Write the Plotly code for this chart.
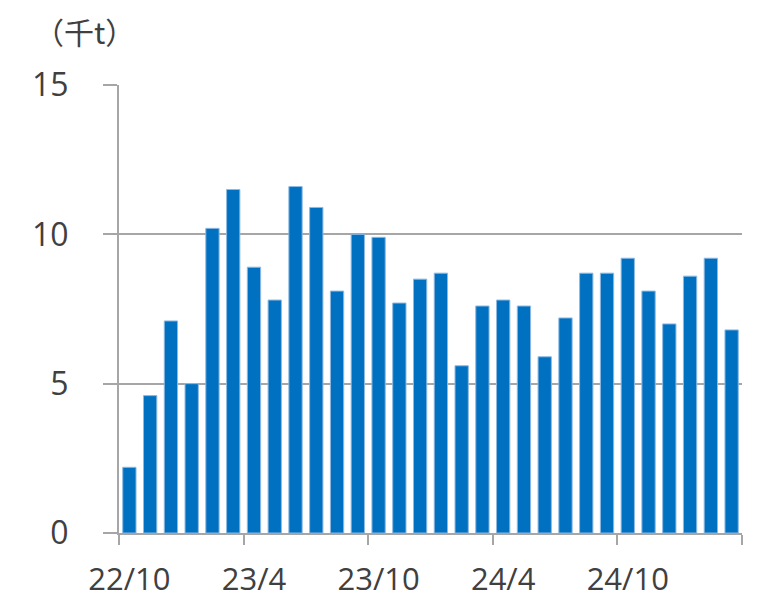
import plotly.graph_objects as go

months = ["22/10", "22/11", "22/12", "23/1", "23/2", "23/3", "23/4", "23/5", "23/6", "23/7",
          "23/8", "23/9", "23/10", "23/11", "23/12", "24/1", "24/2", "24/3", "24/4", "24/5",
          "24/6", "24/7", "24/8", "24/9", "24/10", "24/11", "24/12", "25/1", "25/2", "25/3"]
values = [2.2, 4.6, 7.1, 5.0, 10.2, 11.5, 8.9, 7.8, 11.6, 10.9,
          8.1, 10.0, 9.9, 7.7, 8.5, 8.7, 5.6, 7.6, 7.8, 7.6,
          5.9, 7.2, 8.7, 8.7, 9.2, 8.1, 7.0, 8.6, 9.2, 6.8]
tick_labels = ["22/10", "23/4", "23/10", "24/4", "24/10"]
y_ticks = [0, 5, 10, 15]
unit_label = "（千t）"

idx = list(range(len(months)))
label_pos = [months.index(t) for t in tick_labels]
boundaries = [p - 0.5 for p in label_pos] + [len(months) - 0.5]

FONT = "Open Sans, Noto Sans CJK JP, sans-serif"
TXT = "#404040"
GRID = "#A6A6A6"

L, T, PW, PH = 111, 77, 623, 448
W, H = 757, 599

fig = go.Figure()
fig.add_trace(go.Bar(x=idx, y=values,
                     marker=dict(color="#0070C0", line=dict(width=1, color="#8DB9E2")),
                     showlegend=False, hoverinfo="skip"))
# invisible trace to activate xaxis2
fig.add_trace(go.Scatter(x=[0], y=[0], xaxis="x2", mode="markers",
                         marker=dict(opacity=0), showlegend=False, hoverinfo="skip"))

rng = [-0.5, len(months) - 0.5]
fig.update_layout(
    width=W, height=H,
    margin=dict(l=L, r=W - L - PW, t=T, b=H - T - PH, autoexpand=False),
    paper_bgcolor="white", plot_bgcolor="white",
    bargap=0.36,
    font=dict(family=FONT, color=TXT, size=32),
    xaxis=dict(range=rng, tickvals=boundaries, ticktext=[""] * len(boundaries),
               ticks="outside", ticklen=10, tickwidth=2, tickcolor=GRID,
               showline=True, linecolor=GRID, linewidth=2, automargin=False,
               showgrid=False, zeroline=False, fixedrange=True),
    xaxis2=dict(range=rng, overlaying="x", side="bottom", anchor="y",
                tickvals=label_pos, ticktext=tick_labels, ticks="",
                ticklabelstandoff=25, showline=False, showgrid=False,
                automargin=False, zeroline=False, tickfont=dict(size=31, color=TXT)),
    yaxis=dict(range=[0, 15], tickvals=y_ticks, ticks="outside", ticklen=14,
               tickwidth=2, tickcolor=GRID, showgrid=True, gridcolor=GRID,
               gridwidth=2, showline=True, linecolor=GRID, linewidth=2,
               zeroline=False, ticklabelstandoff=28, automargin=False,
               tickfont=dict(size=32, color=TXT), fixedrange=True),
    annotations=[dict(text=unit_label, xref="paper", yref="paper",
                      x=(24 - L) / PW, y=(PH + T - 23) / PH,
                      xanchor="left", yanchor="middle", showarrow=False,
                      font=dict(size=30, color=TXT, family="Noto Sans CJK JP, sans-serif"))],
)
fig.write_html("out.html")
